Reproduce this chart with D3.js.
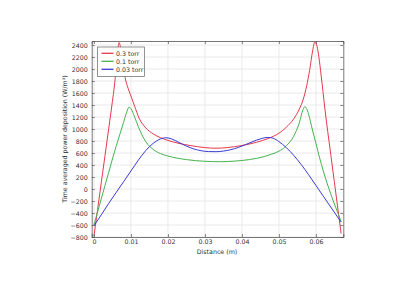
<!DOCTYPE html>
<html><head><meta charset="utf-8">
<script src="https://cdn.jsdelivr.net/npm/d3@7"></script>
<style>body{margin:0;background:#fff}svg{display:block}</style>
</head><body><svg id="c" width="420" height="290"></svg>
<script>
const seriesNames = ["0.3 torr", "0.1 torr", "0.03 torr"];
const seriesColors = ["#e5394a", "#45b34f", "#3a3ad6"];
const redX = [0,0.001,0.002,0.003,0.004,0.005,0.0055,0.006,0.0064,0.0068,0.0072,0.0077,0.0083,0.0094,0.0102,0.011,0.0122,0.014,0.016,0.018,0.020,0.023,0.026,0.030,0.033,0.036,0.040,0.044,0.047,0.050,0.052,0.054,0.0555,0.0566,0.0575,0.0583,0.0591,0.0597,0.0603,0.0608,0.0614,0.0624,0.064,0.066,0.0668];
const redY = [-790,-340,110,560,1010,1460,1700,2000,2280,2440,2360,2150,1900,1650,1517,1380,1183,1020,920,855,810,760,725,690,680,690,725,780,840,930,1030,1170,1330,1500,1720,1980,2300,2450,2380,2200,1900,1350,580,-360,-740];
const greenX = [0,0.001,0.002,0.003,0.004,0.005,0.006,0.007,0.008,0.0088,0.0095,0.010,0.011,0.012,0.013,0.014,0.016,0.018,0.020,0.025,0.030,0.034,0.038,0.042,0.046,0.048,0.050,0.052,0.054,0.0555,0.0565,0.057,0.0575,0.058,0.059,0.060,0.061,0.062,0.063,0.064,0.065,0.066,0.0668];
const greenY = [-600,-380,-160,60,280,500,710,910,1110,1270,1365,1340,1200,1040,900,790,660,590,550,490,462,455,465,490,540,580,630,720,880,1100,1320,1372,1340,1250,1000,760,520,300,100,-80,-250,-410,-545];
const blueX = [0,0.002,0.004,0.006,0.008,0.010,0.012,0.014,0.016,0.018,0.0195,0.021,0.023,0.025,0.027,0.029,0.031,0.033,0.035,0.037,0.039,0.041,0.043,0.045,0.047,0.0485,0.050,0.052,0.054,0.056,0.058,0.060,0.062,0.064,0.066,0.0668];
const blueY = [-615,-430,-240,-60,120,300,480,640,760,835,855,835,775,715,668,638,624,622,632,655,692,740,792,835,860,845,790,690,560,410,240,60,-120,-300,-480,-550];
const xTicks = [0,0.01,0.02,0.03,0.04,0.05,0.06];
const yTicks = [-800,-600,-400,-200,0,200,400,600,800,1000,1200,1400,1600,1800,2000,2200,2400];
const xTitle = "Distance (m)";
const yTitle = "Time averaged power deposition (W/m³)";

const svg = d3.select("#c");
const L=91.7, R=343.3, T=41, B=237;
const x = d3.scaleLinear().domain([-0.0006,0.0674]).range([L,R]);
const y = d3.scaleLinear().domain([-800,2467]).range([B,T]);
const font = "DejaVu Sans, sans-serif";
const txt = "#333";

const g = svg.append("g");
g.selectAll(".gx").data(xTicks).enter().append("line")
 .attr("x1",d=>x(d)).attr("x2",d=>x(d)).attr("y1",T).attr("y2",B)
 .attr("stroke","#e4e4e4").attr("stroke-width",0.8);
g.selectAll(".gy").data(yTicks).enter().append("line")
 .attr("y1",d=>y(d)).attr("y2",d=>y(d)).attr("x1",L).attr("x2",R)
 .attr("stroke","#e4e4e4").attr("stroke-width",0.8);

const line = d3.line().x(d=>x(d[0])).y(d=>y(d[1])).curve(d3.curveMonotoneX);
const series = [d3.zip(redX,redY), d3.zip(greenX,greenY), d3.zip(blueX,blueY)];
svg.append("defs").append("clipPath").attr("id","clip").append("rect")
 .attr("x",L).attr("y",T).attr("width",R-L).attr("height",B-T);
series.forEach((s,i)=>{
  g.append("path").datum(s).attr("d",line).attr("fill","none")
   .attr("stroke",seriesColors[i]).attr("stroke-width",1).attr("clip-path","url(#clip)");
});

const xa = d3.axisBottom(x).tickValues(xTicks).tickSize(-3).tickPadding(3).tickFormat(d=>d===0?"0":d3.format(".2~f")(d));
const ya = d3.axisLeft(y).tickValues(yTicks).tickSize(-3).tickPadding(4).tickFormat(d3.format("d"));
const gx = svg.append("g").attr("transform",`translate(0,${B})`).call(xa);
const gy = svg.append("g").attr("transform",`translate(${L},0)`).call(ya);
const gx2 = svg.append("g").attr("transform",`translate(0,${T})`).call(d3.axisTop(x).tickValues(xTicks).tickSize(-3).tickFormat(""));
const gy2 = svg.append("g").attr("transform",`translate(${R},0)`).call(d3.axisRight(y).tickValues(yTicks).tickSize(-3).tickFormat(""));
[gx,gy,gx2,gy2].forEach(a=>{
  a.select(".domain").attr("stroke","#555").attr("stroke-width",0.8);
  a.selectAll(".tick line").attr("stroke","#555").attr("stroke-width",0.7);
  a.selectAll("text").attr("font-family",font).attr("font-size",6.3).attr("fill",txt);
});

svg.append("text").attr("x",217).attr("y",254).attr("text-anchor","middle")
 .attr("font-family",font).attr("font-size",6.3).attr("fill",txt).text(xTitle);
svg.append("text").attr("transform",`translate(67,${(T+B)/2}) rotate(-90)`).attr("text-anchor","middle")
 .attr("font-family",font).attr("font-size",6.3).attr("fill",txt).text(yTitle);

const lg = svg.append("g");
lg.append("rect").attr("x",97.5).attr("y",47).attr("width",47).attr("height",29.5)
 .attr("fill","#fff").attr("stroke","#666").attr("stroke-width",0.7);
seriesNames.forEach((n,i)=>{
  const yy = 53.3 + i*8;
  lg.append("line").attr("x1",101.5).attr("x2",113.5).attr("y1",yy).attr("y2",yy)
   .attr("stroke",seriesColors[i]).attr("stroke-width",1.3);
  lg.append("text").attr("x",116).attr("y",yy+2.3).attr("font-family",font)
   .attr("font-size",6.3).attr("fill",txt).text(n);
});
</script></body></html>
